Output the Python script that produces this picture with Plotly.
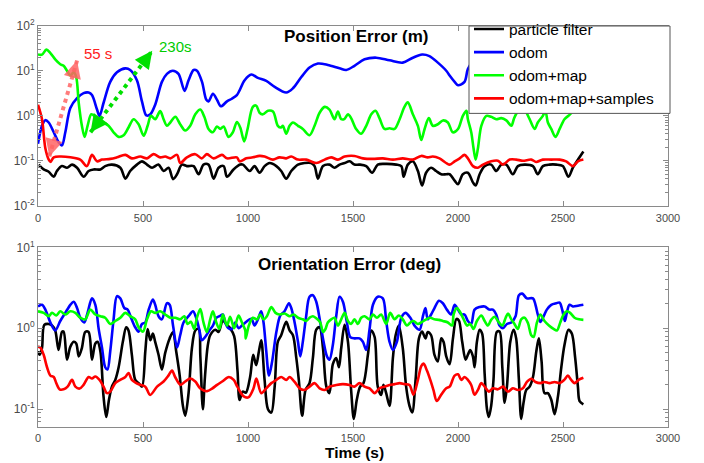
import numpy as np
import plotly.graph_objects as go

# ---------------- DATA ----------------
SERIES_NAMES = ["particle filter", "odom", "odom+map", "odom+map+samples"]
X_TICKS = [0, 500, 1000, 1500, 2000, 2500, 3000]
POS_Y_TICKS = [0.01, 0.1, 1, 10, 100]
POS_Y_TICKTEXT = ["10<sup>-2</sup>", "10<sup>-1</sup>", "10<sup>0</sup>", "10<sup>1</sup>", "10<sup>2</sup>"]
ORI_Y_TICKS = [0.1, 1, 10]
ORI_Y_TICKTEXT = ["10<sup>-1</sup>", "10<sup>0</sup>", "10<sup>1</sup>"]

# Position error (m) -- particle filter
pos_pf_t = [3,27,51,75,90,114,138,162,186,217,241,265,297,320,352,392,416,439,471,495,
            519,543,574,598,622,643,662,685,709,741,765,788,812,836,860,884,900,931,963,
            976,1008,1031,1055,1079,1103,1135,1158,1182,1206,1238,1269,1301,1317,1333,1357,1388,1412,1436,1460,
            1484,1507,1531,1563,1591,1618,1658,1706,1730,1741,1761,1785,1809,1829,1848,1872,1896,1920,1944,
            1960,1984,2000,2023,2047,2071,2084,2103,2127,2158,2182,2206,2230,2261,2285,2317,2357,2380,2404,2436,
            2468,2499,2526,2547,2571,2597]
pos_pf_v = [0.082,0.064,0.057,0.044,0.059,0.076,0.070,0.082,0.070,0.044,0.059,0.064,0.064,0.076,0.082,0.070,0.040,0.059,0.082,0.097,
            0.082,0.070,0.082,0.059,0.070,0.039,0.050,0.082,0.076,0.076,0.050,0.082,0.082,0.040,0.070,0.076,0.044,0.064,0.082,
            0.082,0.059,0.076,0.054,0.076,0.089,0.076,0.059,0.040,0.059,0.082,0.089,0.089,0.076,0.040,0.076,0.082,0.070,0.082,0.089,
            0.097,0.082,0.082,0.076,0.054,0.082,0.085,0.082,0.076,0.044,0.082,0.097,0.059,0.028,0.054,0.070,0.059,0.050,0.050,
            0.050,0.036,0.030,0.050,0.054,0.033,0.028,0.050,0.076,0.082,0.059,0.082,0.082,0.050,0.076,0.082,0.076,0.050,0.076,0.082,
            0.082,0.076,0.044,0.070,0.105,0.16]

# Position error -- odom
pos_odom_t = [0,19,35,51,75,98,114,130,154,186,217,241,257,281,293,312,344,376,416,439,
              471,495,516,535,558,590,614,642,669,698,717,741,757,781,801,812,833,852,871,900,923,947,
              960,984,1016,1047,1087,1127,1182,1214,1254,1293,1333,1380,1436,1468,1507,1555,1611,1674,1737,1785,
              1829,1864,1904,1944,1960,1984,2000,2031,2047,2070,2100,2200,2300,2400,2500,2597]
pos_odom_v = [0.24,0.60,0.80,0.71,0.43,0.26,0.22,0.43,1.50,2.47,3.2,3.3,2.9,1.38,0.99,1.93,5.7,9.3,11.4,10.5,
              6.2,2.1,1.02,1.08,1.77,5.7,8.6,10.1,8.6,3.6,6.2,10.5,10.1,5.7,2.3,2.1,3.1,2.3,1.63,2.1,2.4,2.9,
              3.7,6.2,8.3,7.0,6.0,4.4,3.3,4.1,7.3,11.9,14.6,13.6,11.4,10.5,13.0,18.1,19.7,17.2,15.3,19.7,
              23.2,21.4,15.3,10.1,7.9,5.7,4.8,5.7,11.0,16,20,18,25,20,15,18]

# Position error -- odom+map
pos_map_t = [0,19,40,59,82,106,122,138,154,170,182,194,209,222,236,254,273,289,312,336,
             360,384,408,431,455,479,503,522,538,558,582,598,614,630,654,677,701,725,749,773,
             792,812,833,852,868,884,907,928,947,963,982,998,
             1023,1039,1055,1071,1095,1119,1142,1158,1166,1182,1198,1214,1238,1261,1293,1317,1341,1365,1388,1412,
             1428,1444,1460,1476,1491,1515,1539,1563,1587,1607,1626,1650,1674,1698,1722,1745,1761,1785,1809,1825,
             1841,1861,1880,1904,1928,1952,1975,
             2000,2023,2040,2047,2063,2074,2084,2095,2111,2135,2158,2182,2206,2230,2254,2266,2277,2300,2320,2341,
             2365,2380,2404,2416,2428,2444,2464,2484,2507,2531,2550]
pos_map_v = [23.2,23,29.8,25,18.1,14.1,13.0,10.1,7.9,9.3,7.3,1.93,0.60,0.34,0.60,1.08,0.95,0.79,0.71,0.60,
             0.43,0.34,0.37,0.55,0.84,0.65,0.36,0.60,1.0,0.84,1.27,0.84,0.60,0.71,0.95,0.65,0.47,0.60,1.08,1.38,
             0.95,0.51,0.43,0.58,0.51,0.58,0.34,0.43,0.73,0.55,0.27,0.51,
             1.58,1.69,1.17,1.08,1.30,1.25,0.60,0.55,0.60,0.40,0.60,0.71,0.60,0.51,0.37,0.60,1.17,1.58,1.38,0.84,
             1.25,0.84,0.86,1.08,0.89,0.51,0.40,0.60,1.08,1.30,0.89,0.51,0.53,0.51,0.84,1.58,1.99,1.08,0.60,0.29,
             0.51,0.89,0.60,0.65,0.79,0.71,0.43,
             0.51,1.0,1.3,0.84,0.43,0.19,0.106,0.19,0.60,1.0,0.95,0.84,0.89,0.79,0.60,0.85,1.1,1.5,1.3,0.84,
             0.51,0.71,1.0,1.3,0.71,0.51,0.34,0.51,0.84,1.05,1.3]

# Position error -- odom+map+samples
pos_smp_t = [0,19,35,51,59,75,106,154,201,233,257,281,305,344,376,416,447,487,519,550,
             582,606,630,662,677,709,749,780,804,836,876,900,947,
             960,992,1023,1055,1079,1119,1150,1182,1206,1238,1277,1325,1365,1396,1428,1460,1507,1547,1595,1642,
             1690,1737,1785,1825,1856,1880,1912,
             1960,1984,2008,2031,2047,2071,2095,2119,2158,2190,2214,2246,2277,2309,2349,2372,2404,2444,2484,2515,
             2547,2571,2597]
pos_smp_v = [1.77,0.84,0.19,0.106,0.094,0.119,0.124,0.119,0.106,0.076,0.135,0.097,0.106,0.11,0.119,0.135,0.113,0.124,0.113,0.14,
             0.119,0.124,0.113,0.135,0.089,0.119,0.14,0.113,0.14,0.113,0.135,0.113,0.119,
             0.097,0.113,0.119,0.128,0.124,0.106,0.119,0.113,0.124,0.106,0.106,0.089,0.106,0.119,0.106,0.124,0.128,0.113,0.11,0.113,
             0.106,0.113,0.106,0.128,0.119,0.124,0.113,
             0.082,0.097,0.113,0.135,0.113,0.076,0.070,0.082,0.097,0.100,0.082,0.106,0.106,0.10,0.106,0.094,0.106,0.106,0.106,0.097,
             0.076,0.097,0.106]

# Orientation error (deg) -- particle filter
ori_pf_t = [0,8,19,30,51,67,82,98,114,122,138,154,170,182,194,209,225,241,257,273,
            284,297,312,325,338,352,368,384,404,420,431,447,463,479,495,511,522,535,547,558,
            574,590,606,627,643,658,674,690,701,717,733,749,765,773,785,795,808,820,845,860,
            880,900,915,934,950,960,975,990,1010,1025,
            1039,1052,1063,1079,1095,1111,1127,1142,1158,1182,1198,1214,1230,1242,1258,1274,1293,1309,1325,1341,
            1357,1373,1388,1404,1420,1433,1444,1460,1476,1491,1504,1518,1534,1550,1571,1587,1603,1618,1634,1645,
            1658,1674,1690,1703,1718,1737,1753,1769,1782,1798,1814,1829,1845,1856,1872,1888,1904,1920,1931,1944,
            1960,1976,1992,2004,2020,2036,2047,2058,2071,2079,2090,2103,2115,2127,2138,2147,2158,2169,2185,2198,
            2211,2222,2233,2249,2265,2277,2290,2301,2312,2325,2341,2357,2373,2385,2398,2412,2428,2444,2460,2476,
            2492,2507,2526,2542,2558,2571,2579,2597]
ori_pf_v = [0.52,0.47,0.57,1.1,1.13,1.08,0.94,0.54,0.90,0.91,0.41,0.59,0.68,0.65,0.45,0.57,0.90,0.90,0.41,0.65,
            0.68,0.52,0.144,0.080,0.131,0.19,0.23,0.33,0.68,1.03,0.94,0.47,0.23,0.21,0.19,0.52,0.98,0.71,0.86,0.68,
            0.47,0.31,0.50,0.75,0.90,0.52,0.27,0.11,0.083,0.158,0.57,0.94,0.98,0.45,0.10,0.25,0.60,0.82,0.96,0.90,
            1.25,1.1,1.0,0.8,0.3,0.13,0.165,0.16,0.25,0.47,
            0.35,0.52,0.71,0.23,0.10,0.091,0.19,0.68,0.82,1.2,0.94,0.82,0.43,0.23,0.083,0.173,0.21,0.43,0.96,1.03,
            0.57,0.19,0.158,0.36,0.43,0.33,0.57,1.1,0.68,0.173,0.076,0.131,0.19,0.21,0.47,0.94,0.78,0.19,0.15,0.20,
            0.158,0.11,0.43,0.82,1.08,0.57,0.19,0.11,0.091,0.23,0.75,0.91,0.75,0.90,0.82,0.47,0.39,0.75,0.68,0.45,
            0.36,0.75,1.3,1.25,0.68,0.41,0.47,0.54,0.45,0.33,0.68,0.96,0.86,0.27,0.10,0.080,0.11,0.23,0.90,0.91,
            0.33,0.12,0.19,0.68,0.96,0.75,0.23,0.076,0.12,0.173,0.19,0.25,0.52,0.75,0.39,0.158,0.158,0.131,0.087,0.144,
            0.33,0.62,0.96,0.86,0.43,0.19,0.126,0.115]

# Orientation error -- odom
ori_odom_t = [0,19,35,59,82,106,130,154,170,186,201,220,236,257,273,289,305,320,331,344,
              360,376,392,411,427,443,463,479,495,511,527,547,558,574,590,614,627,643,662,677,
              693,717,738,753,769,780,796,816,833,849,864,880,891,907,923,939,955,
              979,1016,1031,1047,1063,1074,1087,1100,1115,1135,1154,1174,1195,1206,1222,1238,1249,1261,1277,1293,
              1309,1325,1344,1360,1376,1388,1404,1420,1436,1452,1471,1487,1507,1531,1547,1563,1579,1595,1618,1642,
              1658,1674,1690,1709,1730,1750,1773,1793,1817,1833,1845,1856,1872,1888,1909,1928,1947,
              1967,1984,2000,2016,2031,2047,2063,2079,2103,2127,2150,2166,2182,2198,2214,2233,2254,2274,2290,2306,
              2328,2357,2369,2380,2392,2408,2423,2444,2468,2484,2496,2509,2518,2531,2547,2571,2597]
ori_odom_v = [1.86,1.95,1.70,1.18,0.94,1.23,1.55,1.95,2.13,1.78,1.35,1.18,1.55,2.34,1.95,0.98,0.57,0.33,0.31,0.52,
              1.29,2.49,2.34,1.78,1.70,1.35,1.03,0.91,1.13,1.18,1.70,2.27,1.95,1.41,1.29,2.04,1.95,1.08,0.58,0.82,
              1.18,1.41,1.62,1.35,0.94,0.71,0.78,0.94,1.08,1.35,1.41,1.48,1.18,1.0,0.98,1.18,1.0,
              1.13,1.31,1.08,1.29,1.62,1.18,0.52,0.26,0.39,0.90,1.44,1.62,2.04,1.78,1.18,0.68,0.45,0.68,1.41,2.45,
              2.56,2.13,1.18,0.68,0.45,0.41,0.62,1.41,2.45,2.13,1.18,0.78,0.75,0.75,0.68,0.54,0.98,1.95,2.45,2.34,
              1.23,0.68,0.54,0.68,1.35,1.55,1.35,1.08,0.96,1.41,1.78,1.29,1.48,1.78,2.19,2.04,1.70,
              1.48,1.95,1.70,1.48,1.48,1.23,1.13,1.70,1.83,1.86,1.70,1.70,1.48,1.08,1.0,1.13,1.18,1.41,2.56,2.68,
              2.34,2.34,1.95,1.48,1.20,1.41,1.70,1.95,2.04,2.08,1.70,1.23,1.55,1.95,1.86,1.90,1.95]

# Orientation error -- odom+map
ori_map_t = [0,27,51,67,87,106,130,154,178,201,225,249,273,297,320,344,368,392,416,439,
             463,479,500,519,538,558,582,606,630,654,677,697,712,728,744,757,773,788,804,820,
             833,849,864,880,900,915,934,955,971,987,
             989,1004,1023,1043,1058,1074,1090,1111,1131,1150,1174,1198,1217,1238,1261,1277,1293,1309,1328,1344,
             1357,1369,1380,1396,1412,1428,1444,1460,1476,1491,1507,1523,1539,1555,1579,1595,1614,1634,1658,1677,
             1698,1718,1737,1757,1773,1788,1809,1829,1849,1868,1888,1909,1928,1952,1972,
             1979,1995,2008,2027,2043,2058,2074,2090,2111,2127,2142,2158,2174,2195,2211,2227,2238,2254,2269,2285,
             2301,2317,2333,2349,2360,2376,2392,2412,2433,2455,2471,2487,2503,2518,2534,2555,2576,2597]
ori_map_v = [1.62,1.55,1.41,1.55,1.44,1.62,1.48,1.62,1.55,1.35,1.29,1.70,1.48,1.41,1.35,1.13,1.23,1.35,1.55,1.41,
             1.29,1.03,0.91,1.29,1.62,1.55,1.62,1.48,1.35,1.35,1.29,1.41,1.13,1.20,0.98,1.35,1.73,1.18,0.90,1.29,
             1.62,1.18,0.98,1.48,1.08,1.39,1.0,1.44,1.18,0.94,
             0.75,1.08,1.35,1.29,1.48,1.29,1.41,1.83,1.55,1.48,1.52,1.41,1.48,1.35,1.29,1.23,1.35,1.41,1.31,1.18,
             0.90,0.98,1.18,1.29,1.35,1.08,1.29,1.55,1.23,1.13,1.29,1.13,1.35,1.41,1.29,1.48,1.35,1.48,1.13,1.55,
             1.29,1.44,1.29,1.08,1.18,1.23,1.13,1.20,1.29,1.35,1.29,1.27,1.23,1.18,1.08,
             1.48,1.78,1.62,1.29,1.08,1.13,0.98,1.23,1.44,1.23,1.08,1.27,1.39,1.18,1.08,1.35,1.52,1.29,1.13,0.98,
             1.29,1.35,1.16,0.82,0.78,1.18,1.48,1.23,1.08,0.98,0.94,1.18,1.48,1.62,1.55,1.35,1.29,1.27]

# Orientation error -- odom+map+samples
ori_smp_t = [0,11,27,43,59,75,87,103,122,141,162,178,198,217,241,257,273,293,312,328,
             344,368,392,416,431,447,468,487,511,534,567,598,621,638,653,678,701,725,749,773,
             805,829,853,877,909,932,949,978,1002,1026,
             1040,1063,1087,1111,1135,1158,1182,1198,1222,1246,1269,1293,1317,1341,1365,1388,1420,1452,1484,1507,
             1531,1555,1579,1603,1626,1650,1674,1698,1722,1745,1769,1788,1809,1825,1836,1852,1868,1883,1899,1920,
             1944,
             1960,1984,2000,2016,2031,2047,2063,2079,2095,2111,2127,2147,2166,2190,2214,2238,2261,2285,2309,2328,
             2349,2369,2392,2412,2436,2460,2484,2507,2523,2539,2555,2576,2597]
ori_smp_v = [0.59,0.58,0.47,0.33,0.26,0.25,0.21,0.176,0.176,0.19,0.23,0.19,0.18,0.20,0.25,0.24,0.254,0.23,0.19,0.158,
             0.165,0.21,0.23,0.25,0.28,0.23,0.21,0.20,0.19,0.15,0.19,0.22,0.26,0.30,0.25,0.20,0.22,0.24,0.22,0.18,
             0.167,0.18,0.20,0.22,0.25,0.23,0.19,0.145,0.14,0.18,
             0.24,0.158,0.181,0.21,0.23,0.25,0.23,0.25,0.217,0.181,0.173,0.19,0.21,0.181,0.173,0.19,0.199,0.204,0.199,0.19,
             0.21,0.19,0.181,0.158,0.181,0.19,0.199,0.204,0.21,0.204,0.199,0.151,0.23,0.34,0.366,0.30,0.23,0.173,0.126,0.151,
             0.181,
             0.19,0.26,0.27,0.23,0.25,0.23,0.199,0.151,0.173,0.21,0.19,0.165,0.181,0.176,0.19,0.165,0.181,0.173,0.181,0.217,
             0.238,0.217,0.21,0.217,0.21,0.217,0.21,0.232,0.26,0.23,0.21,0.232,0.245]

# Convergence markers (annotation data): (time, error) endpoints of the double arrows
arrow55_t = [54, 186]
arrow55_v = [0.125, 17.0]
arrow230_t = [250, 544]
arrow230_v = [0.43, 28.0]
label55 = ("55 s", 287, 25.0)
label230 = ("230s", 653, 35.0)

# ---------------- STYLE ----------------
COLORS = ["#000000", "#0000FF", "#00FF00", "#FF0000"]
FONT = "Liberation Sans, Arial, Helvetica, sans-serif"
AX_COLOR = "#8a8a8a"
LBL_COLOR = "#4a4a4a"

# layout geometry (pixels) used only to orient the arrow heads
W, H = 704, 463
ML, MR, MT, MB = 38, 36, 14, 36
TOP_DOM = [0.552, 1.0]
POS_RANGE = [-2, 2]
X_RANGE = [0, 3000]

def top_px(t, v):
    plot_w = W - ML - MR
    plot_h = H - MT - MB
    px = ML + (t - X_RANGE[0]) / (X_RANGE[1] - X_RANGE[0]) * plot_w
    y0 = MT + (1 - TOP_DOM[1]) * plot_h
    y1 = MT + (1 - TOP_DOM[0]) * plot_h
    py = y0 + (POS_RANGE[1] - np.log10(v)) / (POS_RANGE[1] - POS_RANGE[0]) * (y1 - y0)
    return px, py

fig = go.Figure()

pos_sets = [(pos_pf_t, pos_pf_v), (pos_odom_t, pos_odom_v), (pos_map_t, pos_map_v), (pos_smp_t, pos_smp_v)]
ori_sets = [(ori_pf_t, ori_pf_v), (ori_odom_t, ori_odom_v), (ori_map_t, ori_map_v), (ori_smp_t, ori_smp_v)]

for i, (t, v) in enumerate(pos_sets):
    fig.add_trace(go.Scatter(x=t, y=v, mode="lines", name=SERIES_NAMES[i],
                             line=dict(color=COLORS[i], width=2.6, shape="spline", smoothing=0.9),
                             xaxis="x", yaxis="y", showlegend=True, hoverinfo="skip"))
for i, (t, v) in enumerate(ori_sets):
    fig.add_trace(go.Scatter(x=t, y=v, mode="lines", name=SERIES_NAMES[i],
                             line=dict(color=COLORS[i], width=2.6, shape="spline", smoothing=0.9),
                             xaxis="x2", yaxis="y2", showlegend=False, hoverinfo="skip"))

ARROW_RED = "rgba(255,100,100,0.85)"
ARROW_GREEN = "#00E000"
annotations = []
for (at, av, col) in [(arrow55_t, arrow55_v, ARROW_RED), (arrow230_t, arrow230_v, ARROW_GREEN)]:
    fig.add_trace(go.Scatter(x=at, y=av, mode="lines", showlegend=False, hoverinfo="skip",
                             line=dict(color=col, width=4, dash="4px,4px"), xaxis="x", yaxis="y"))
    for k in (0, 1):
        o = 1 - k
        pkx, pky = top_px(at[k], av[k])
        pox, poy = top_px(at[o], av[o])
        d = np.hypot(pox - pkx, poy - pky)
        L = 14.0
        annotations.append(dict(x=at[k], y=float(np.log10(av[k])), xref="x", yref="y",
                                ax=float((pox - pkx) / d * L), ay=float((poy - pky) / d * L),
                                text="", showarrow=True, arrowhead=2, arrowsize=1.0,
                                arrowwidth=3.5, arrowcolor=col))

for (txt, tt, vv, col) in [(label55[0], label55[1], label55[2], "#FF2020"),
                           (label230[0], label230[1], label230[2], "#00CC00")]:
    annotations.append(dict(x=tt, y=float(np.log10(vv)), xref="x", yref="y", text=txt, showarrow=False,
                            yanchor="middle", font=dict(family=FONT, size=15, color=col)))

annotations += [
    dict(x=0.505, y=0.975, xref="paper", yref="paper", text="<b>Position Error (m)</b>", showarrow=False,
         yanchor="middle", font=dict(family=FONT, size=17, color="black")),
    dict(x=0.495, y=0.406, xref="paper", yref="paper", text="<b>Orientation Error (deg)</b>", showarrow=False,
         yanchor="middle", font=dict(family=FONT, size=17, color="black")),
    dict(x=0.503, y=-0.0635, xref="paper", yref="paper", text="<b>Time (s)</b>", showarrow=False,
         yanchor="middle", font=dict(family=FONT, size=15.5, color="black")),
]

def minor_vals(lo, hi):
    out = []
    for e in range(lo, hi):
        for m in range(2, 10):
            out.append(m * 10.0 ** e)
    return out

common = dict(showline=True, linecolor=AX_COLOR, linewidth=1, mirror="ticks", ticks="inside",
              ticklen=5, tickcolor=AX_COLOR, showgrid=False, zeroline=False)
xfont = dict(family=FONT, size=11, color=LBL_COLOR)
yfont = dict(family=FONT, size=12, color=LBL_COLOR)

# legend box drawn as a shape (MATLAB-like tight box), legend itself transparent
LEG_X0 = (469 - ML) / (W - ML - MR)
LEG_X1 = (670 - ML) / (W - ML - MR)
LEG_Y1 = 1.0
LEG_Y0 = (H - MB - 104) / (H - MT - MB)
shapes = [dict(type="rect", xref="paper", yref="paper", x0=LEG_X0, x1=LEG_X1, y0=LEG_Y0, y1=LEG_Y1,
               layer="above", fillcolor="white", line=dict(color="#555555", width=1))]

fig.update_layout(
    width=W, height=H,
    margin=dict(l=ML, r=MR, t=MT, b=MB),
    paper_bgcolor="white", plot_bgcolor="white",
    xaxis=dict(domain=[0, 1], anchor="y", range=X_RANGE, tickmode="array", tickvals=X_TICKS,
               tickfont=xfont, ticklabelstandoff=2, **common),
    yaxis=dict(domain=TOP_DOM, anchor="x", type="log", range=POS_RANGE, tickmode="array",
               tickvals=POS_Y_TICKS, ticktext=POS_Y_TICKTEXT, tickfont=yfont,
               minor=dict(ticks="inside", ticklen=3, tickcolor=AX_COLOR, tickmode="array",
                          tickvals=minor_vals(-2, 2)), **common),
    xaxis2=dict(domain=[0, 1], anchor="y2", range=X_RANGE, tickmode="array", tickvals=X_TICKS,
                tickfont=xfont, ticklabelstandoff=1, **common),
    yaxis2=dict(domain=[0, 0.448], anchor="x2", type="log", range=[-1.22, 1], tickmode="array",
                tickvals=ORI_Y_TICKS, ticktext=ORI_Y_TICKTEXT, tickfont=yfont,
                minor=dict(ticks="inside", ticklen=3, tickcolor=AX_COLOR, tickmode="array",
                           tickvals=minor_vals(-2, 1)), **common),
    legend=dict(x=LEG_X0, xanchor="left", y=1.034, yanchor="top", bgcolor="rgba(0,0,0,0)",
                borderwidth=0, font=dict(family=FONT, size=15.5, color="black"),
                itemwidth=30, tracegroupgap=0),
    shapes=shapes,
    annotations=annotations,
    showlegend=True,
)

fig.write_html("out.html")
